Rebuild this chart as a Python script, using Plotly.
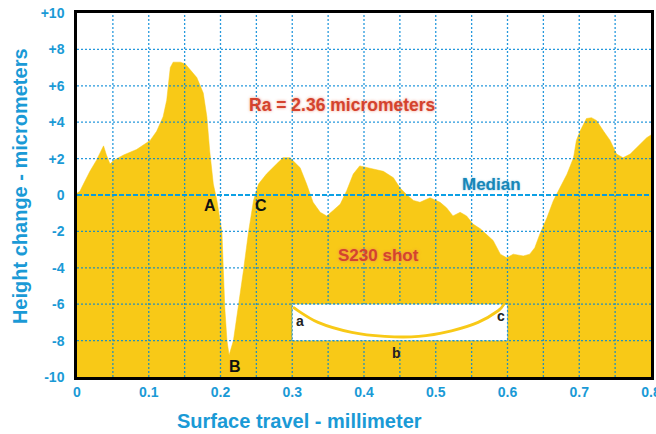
import numpy as np
import plotly.graph_objects as go

# Surface profile: travel (mm) vs height change (micrometers)
travel_mm = [0.000, 0.004, 0.009, 0.018, 0.027, 0.037, 0.041, 0.046, 0.051, 0.065,
             0.083, 0.102, 0.111, 0.120, 0.125, 0.130, 0.134, 0.144, 0.151, 0.157,
             0.167, 0.176, 0.181, 0.185, 0.190, 0.195, 0.202, 0.204, 0.206, 0.209,
             0.212, 0.218, 0.225, 0.232, 0.239, 0.246, 0.253, 0.264, 0.278, 0.287,
             0.297, 0.311, 0.320, 0.329, 0.339, 0.348, 0.357, 0.367, 0.376, 0.385,
             0.394, 0.404, 0.413, 0.427, 0.441, 0.450, 0.460, 0.469, 0.478, 0.492,
             0.506, 0.515, 0.524, 0.534, 0.543, 0.552, 0.562, 0.571, 0.580, 0.590,
             0.599, 0.608, 0.622, 0.631, 0.638, 0.645, 0.655, 0.664, 0.673, 0.683,
             0.692, 0.696, 0.701, 0.710, 0.717, 0.724, 0.734, 0.743, 0.752, 0.761,
             0.771, 0.785, 0.794, 0.800]
height_um = [0.1, 0.2, 0.6, 1.3, 1.9, 2.7, 2.2, 1.7, 1.9, 2.2,
             2.5, 3.0, 3.5, 4.3, 5.2, 7.0, 7.3, 7.3, 7.2, 6.9,
             6.45, 5.6, 4.3, 2.4, 0.6, -0.3, -2.05, -4.15, -6.2, -8.0,
             -8.8, -8.0, -6.2, -4.15, -2.05, -0.3, 0.6, 1.15, 1.7, 2.05,
             2.05, 1.5, 0.6, -0.4, -0.95, -1.15, -0.85, -0.5, 0.25, 1.15,
             1.6, 1.5, 1.45, 1.3, 0.95, 0.4, 0.0, -0.3, -0.4, -0.15,
             -0.4, -0.7, -1.15, -0.95, -1.15, -1.6, -1.85, -2.15, -2.5, -3.25,
             -3.45, -3.25, -3.35, -3.25, -2.9, -2.15, -1.25, -0.3, 0.4, 1.15,
             2.05, 3.0, 3.5, 4.2, 4.25, 4.1, 3.5, 3.0, 2.25, 2.05,
             2.25, 2.8, 3.15, 3.3]

# Sketch of a single dimple (inset): a - b - c
dimple_x = [0.301, 0.336, 0.383, 0.429, 0.476, 0.522, 0.559, 0.587, 0.596]
dimple_y = [-6.17, -7.0, -7.55, -7.77, -7.77, -7.46, -7.0, -6.36, -5.95]

x_ticks = [0, 0.1, 0.2, 0.3, 0.4, 0.5, 0.6, 0.7, 0.8]
x_tick_labels = ["0", "0.1", "0.2", "0.3", "0.4", "0.5", "0.6", "0.7", "0.8"]
y_ticks = [-10, -8, -6, -4, -2, 0, 2, 4, 6, 8, 10]
y_tick_labels = ["-10", "-8", "-6", "-4", "-2", "0", "+2", "+4", "+6", "+8", "+10"]

X_MIN, X_MAX = 0.0, 0.8
Y_MIN, Y_MAX = -10, 10

FONT = "Liberation Sans, Arial, sans-serif"
BLUE = "#1a9ad6"
YELLOW = "#f8c917"
RED = "#d4432e"
GRID = "rgba(0,135,215,0.85)"

fig = go.Figure()

# floor of the filled profile at the bottom of the height axis
fig.add_trace(go.Scatter(x=[X_MIN, X_MAX], y=[Y_MIN, Y_MIN], mode="lines",
                         line=dict(width=0, color=YELLOW), hoverinfo="skip",
                         showlegend=False))
fig.add_trace(go.Scatter(x=travel_mm, y=height_um, mode="lines", fill="tonexty",
                         fillcolor=YELLOW, line=dict(width=0.5, color=YELLOW),
                         showlegend=False))

shapes = []
# dotted grid on top of the filled profile
for gx in np.arange(0.05, X_MAX - 1e-9, 0.05):
    shapes.append(dict(type="line", xref="x", yref="y domain", x0=gx, x1=gx, y0=0, y1=1,
                       line=dict(color=GRID, width=1.3, dash="2px,2px"), layer="above"))
for gy in [v for v in y_ticks if Y_MIN < v < Y_MAX and v != 0]:
    shapes.append(dict(type="line", xref="x domain", yref="y", x0=0, x1=1, y0=gy, y1=gy,
                       line=dict(color=GRID, width=1.3, dash="2px,2px"), layer="above"))
# median line
shapes.append(dict(type="line", xref="x domain", yref="y", x0=0, x1=1, y0=0, y1=0,
                   line=dict(color="rgba(0,155,228,0.95)", width=2.2, dash="5px,2px"),
                   layer="above"))
# inset panel
shapes.append(dict(type="rect", xref="x", yref="y", x0=0.3, x1=0.6, y0=-8, y1=-6,
                   fillcolor="white", line=dict(color=GRID, width=1.2, dash="2px,2px"),
                   layer="above"))


# smooth curve through the dimple points (Catmull-Rom -> cubic Bezier)
def smooth_path(xs, ys):
    pts = list(zip(xs, ys))
    d = f"M {pts[0][0]},{pts[0][1]}"
    for i in range(len(pts) - 1):
        p0 = pts[i - 1] if i > 0 else pts[i]
        p1, p2 = pts[i], pts[i + 1]
        p3 = pts[i + 2] if i + 2 < len(pts) else pts[i + 1]
        c1 = (p1[0] + (p2[0] - p0[0]) / 6, p1[1] + (p2[1] - p0[1]) / 6)
        c2 = (p2[0] - (p3[0] - p1[0]) / 6, p2[1] - (p3[1] - p1[1]) / 6)
        d += f" C {c1[0]},{c1[1]} {c2[0]},{c2[1]} {p2[0]},{p2[1]}"
    return d


shapes.append(dict(type="path", xref="x", yref="y", path=smooth_path(dimple_x, dimple_y),
                   line=dict(color=YELLOW, width=2.8), layer="above"))

annotations = []


def label(x, y, text, size, color, shadow=None, xref="x", yref="y", angle=0):
    f = dict(family=FONT, size=size, color=color, weight="bold")
    if shadow:
        f["shadow"] = shadow
    annotations.append(dict(x=x, y=y, xref=xref, yref=yref, text=text, showarrow=False,
                            font=f, xanchor="center", yanchor="middle", textangle=angle))


label(0.370, 4.95, "Ra = 2.36 micrometers", 17.5, RED, "0 0 3px rgba(235,120,90,0.8)")
label(0.420, -3.35, "S230 shot", 17, RED, "0 0 3px rgba(235,120,90,0.8)")
label(0.578, 0.57, "Median", 17, "#1787b8", "0 0 2px rgba(60,160,210,0.6)")
label(0.185, -0.55, "A", 16, "#111111")
label(0.256, -0.55, "C", 16, "#111111")
label(0.220, -9.45, "B", 16, "#111111")
label(0.311, -6.9, "a", 14, "#222222")
label(0.591, -6.67, "c", 14, "#222222")
label(0.445, -8.68, "b", 14, "#222222")
# axis titles
label(0.3885, -0.121, "Surface travel - millimeter", 20, BLUE, xref="paper", yref="paper")
label(-0.099, 0.525, "Height change - micrometers", 20, BLUE, xref="paper", yref="paper",
      angle=-90)

tick_font = dict(family=FONT, size=14, color=BLUE, weight="bold")

fig.update_layout(
    width=656, height=434,
    margin=dict(l=77, r=5, t=13, b=57, autoexpand=False),
    paper_bgcolor="white", plot_bgcolor="white",
    showlegend=False,
    shapes=shapes,
    annotations=annotations,
    xaxis=dict(range=[X_MIN, X_MAX], tickvals=x_ticks, ticktext=x_tick_labels,
               tickfont=tick_font, showgrid=False, zeroline=False,
               showline=True, mirror=True, linecolor="black", linewidth=2.5,
               ticks="", ticklabeloverflow="allow", automargin=False,
               layer="above traces"),
    yaxis=dict(range=[Y_MIN, Y_MAX], tickvals=y_ticks, ticktext=y_tick_labels,
               tickfont=tick_font, showgrid=False, zeroline=False,
               showline=True, mirror=True, linecolor="black", linewidth=2.5,
               ticks="outside", ticklen=7, tickcolor="rgba(0,0,0,0)",
               ticklabeloverflow="allow", automargin=False, layer="above traces"),
)

fig.write_html("out.html")
